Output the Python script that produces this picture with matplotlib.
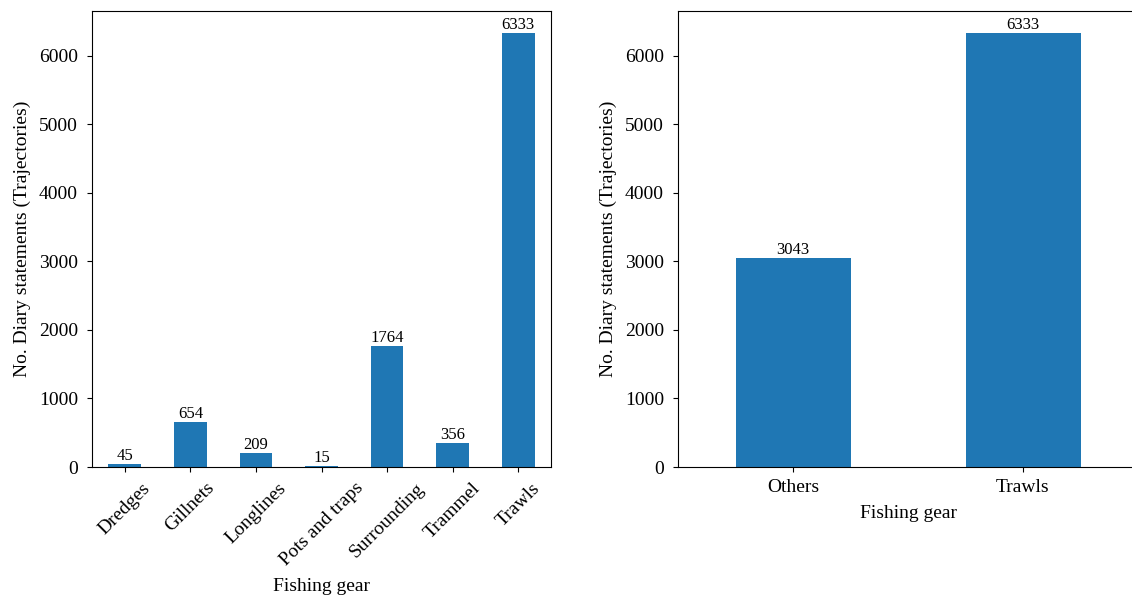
import matplotlib
matplotlib.use("Agg")
import matplotlib.pyplot as plt

plt.rcParams["font.family"] = ["Liberation Serif", "DejaVu Serif"]
plt.rcParams["font.size"] = 14

gear_types = ["Dredges", "Gillnets", "Longlines", "Pots and traps",
              "Surrounding", "Trammel", "Trawls"]
gear_counts = [45, 654, 209, 15, 1764, 356, 6333]

group_names = ["Others", "Trawls"]
group_counts = [3043, 6333]

bar_color = "#1f77b4"
W, H = 1132, 598

fig = plt.figure(figsize=(W / 100, H / 100), dpi=100)
ax1 = fig.add_axes([92 / W, (H - 467) / H, (551 - 92) / W, (467 - 11) / H])
ax2 = fig.add_axes([678 / W, (H - 467) / H, (1138 - 678) / W, (467 - 11) / H])

for ax, cats, vals, rot in [(ax1, gear_types, gear_counts, 45),
                            (ax2, group_names, group_counts, 0)]:
    pos = list(range(len(cats)))
    bars = ax.bar(pos, vals, width=0.5, color=bar_color)
    ax.bar_label(bars, labels=[str(v) for v in vals], fontsize=12, padding=0)
    ax.set_xticks(pos)
    ax.set_xticklabels(cats, rotation=rot, ha="center")
    ax.set_xlim(-0.5, len(cats) - 0.5)
    ax.set_ylim(0, max(vals) * 1.05)
    ax.set_yticks(range(0, 7000, 1000))
    ax.tick_params(axis="y", labelsize=14, pad=6.5)
    ax.tick_params(axis="x", labelsize=14, pad=5.5)
    ax.set_xlabel("Fishing gear", fontsize=14, labelpad=6)
    ax.set_ylabel("No. Diary statements (Trajectories)", fontsize=14, labelpad=6)

fig.savefig("out.png", dpi=100)
